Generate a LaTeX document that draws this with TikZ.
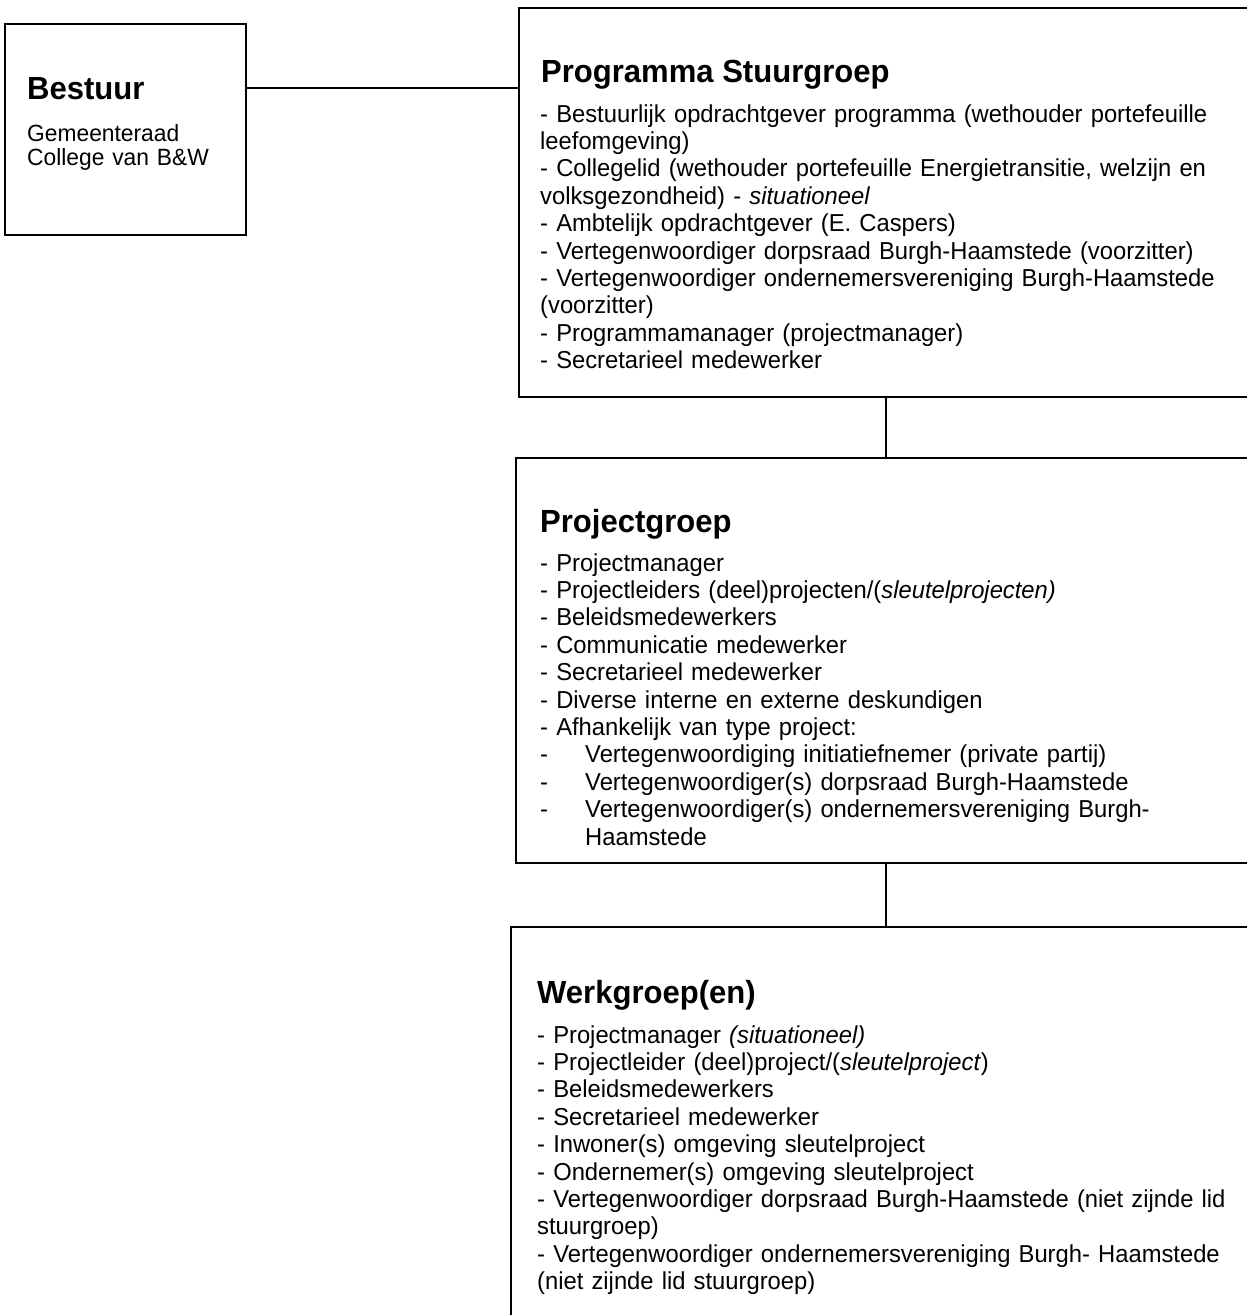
\documentclass[tikz,border=0pt]{standalone}
\usepackage{fontspec}
\setmainfont{Liberation Sans}[FakeStretch=0.97]
\begin{document}
\begin{tikzpicture}[x=1pt,y=-1pt,
  box/.style={draw, line width=1.8pt, anchor=north west, inner sep=0pt, outer sep=0pt},
  link/.style={line width=1.3pt},
  ttl/.style={anchor=base west, inner sep=0pt, font=\fontsize{32}{36}\selectfont\bfseries},
  body/.style={anchor=base west, inner sep=0pt, text width=900pt, align=left, font=\fontsize{24.5}{27.4}\selectfont},
  sbody/.style={body, font=\fontsize{23.5}{24.5}\selectfont}]
\useasboundingbox (0,0) rectangle (1247,1315);
\clip (0,0) rectangle (1247,1315);
% boxes
\node[box, minimum width=241pt, minimum height=211pt] (bestuur) at (5,24) {};
\node[box, minimum width=800pt, minimum height=389pt] (sg) at (519,8) {};
\node[box, minimum width=800pt, minimum height=405pt] (pg) at (516,458) {};
\node[box, minimum width=800pt, minimum height=500pt] (wg) at (511,927) {};
% connectors
\coordinate (j1) at (0,88);
\coordinate (j2) at (886,0);
\draw[link] (j1 -| bestuur.east) -- (j1 -| sg.west);
\draw[link] (j2 |- sg.south) -- (j2 |- pg.north);
\draw[link] (j2 |- pg.south) -- (j2 |- wg.north);
% Bestuur
\node[ttl] (bt) at (27,99) {Bestuur};
\node[sbody] (bb) at (27,141) {Gemeenteraad\\College van B\&W};
% Stuurgroep
\node[ttl] (st) at (541,82) {Programma Stuurgroep};
\node[body] (sb) at (540,122) {- Bestuurlijk opdrachtgever programma (wethouder portefeuille\\
leefomgeving)\\
- Collegelid (wethouder portefeuille Energietransitie, welzijn en\\
volksgezondheid) - \textit{situationeel}\\
- Ambtelijk opdrachtgever (E. Caspers)\\
- Vertegenwoordiger dorpsraad Burgh-Haamstede (voorzitter)\\
- Vertegenwoordiger ondernemersvereniging Burgh-Haamstede\\
(voorzitter)\\
- Programmamanager (projectmanager)\\
- Secretarieel medewerker};
% Projectgroep
\node[ttl] (pt) at (540,532) {Projectgroep};
\node[body] (pb) at (540,571) {- Projectmanager\\
- Projectleiders (deel)projecten/(\textit{sleutelprojecten)}\\
- Beleidsmedewerkers\\
- Communicatie medewerker\\
- Secretarieel medewerker\\
- Diverse interne en externe deskundigen\\
- Afhankelijk van type project:\\
\makebox[45pt][l]{-}Vertegenwoordiging initiatiefnemer (private partij)\\
\makebox[45pt][l]{-}Vertegenwoordiger(s) dorpsraad Burgh-Haamstede\\
\makebox[45pt][l]{-}Vertegenwoordiger(s) ondernemersvereniging Burgh-\\
\hspace*{45pt}Haamstede};
% Werkgroep
\node[ttl] (wt) at (537,1003) {Werkgroep(en)};
\node[body] (wb) at (537,1043) {- Projectmanager \textit{(situationeel)}\\
- Projectleider (deel)project/(\textit{sleutelproject})\\
- Beleidsmedewerkers\\
- Secretarieel medewerker\\
- Inwoner(s) omgeving sleutelproject\\
- Ondernemer(s) omgeving sleutelproject\\
- Vertegenwoordiger dorpsraad Burgh-Haamstede (niet zijnde lid\\
stuurgroep)\\
- Vertegenwoordiger ondernemersvereniging Burgh- Haamstede\\
(niet zijnde lid stuurgroep)};
\end{tikzpicture}
\end{document}
